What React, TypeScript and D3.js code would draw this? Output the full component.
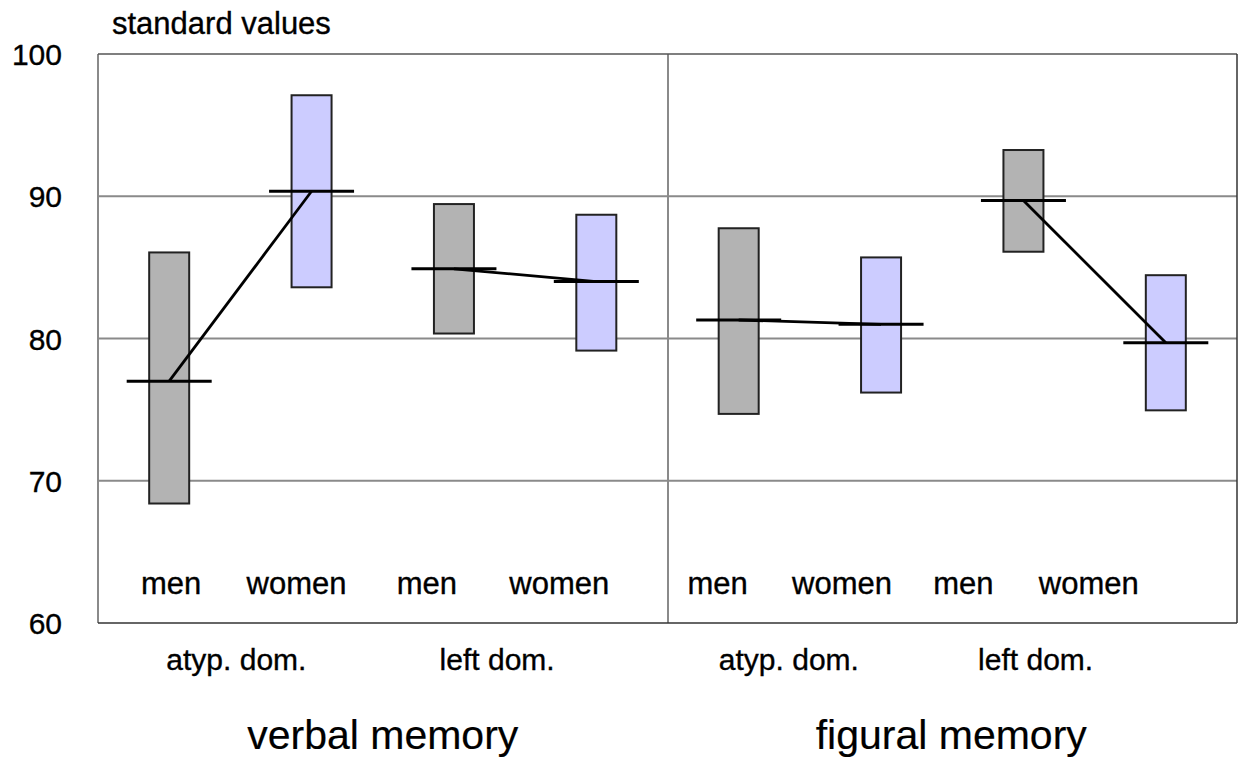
import React from "react";
import * as d3 from "d3";

// ---- data ----
const domains = ["verbal memory", "figural memory"];
const dominance = ["atyp. dom.", "left dom.", "atyp. dom.", "left dom."];
const sexes = ["men", "women", "men", "women", "men", "women", "men", "women"];
const lows = [68.4, 83.6, 80.35, 79.15, 74.7, 76.2, 86.1, 74.95];
const highs = [86.05, 97.1, 89.45, 88.7, 87.75, 85.7, 93.25, 84.45];
const means = [77.0, 90.35, 84.9, 84.0, 81.3, 81.0, 89.7, 79.7];
const yTicks = [60, 70, 80, 90, 100];

// ---- layout constants ----
const W = 1247, H = 764;
const L = 98, R = 1237, T = 54, B = 623;
const sexLabelOffsets = [2, -15, -27, -37, -21, -39, -60, -77];
const domLabelOffsets = [-4, -28, -21, -59];
const FONT = "'Liberation Sans', Arial, Helvetica, sans-serif";
const textStyle = { fontFamily: FONT, fill: "#000", stroke: "#000", strokeWidth: 0.35 };

export default function App() {
  const y = d3.scaleLinear().domain([60, 100]).range([B, T]);
  const x = d3.scaleBand<number>().domain(d3.range(8)).range([L, R]).padding(0);
  const cx = (i: number) => (x(i) as number) + x.bandwidth() / 2;
  const barW = 40;
  const meanW = 85;
  const fills = ["#b3b3b3", "#ccccff"];
  const line = d3.line<number>().x((i) => cx(i)).y((i) => y(means[i]));
  const mid = (L + R) / 2;

  return (
    <svg width={W} height={H} style={{ position: "absolute", left: 0, top: 0, background: "#fff" }}>
      {/* grid lines */}
      {yTicks.filter((t) => t > 60 && t < 100).map((t) => (
        <line key={t} x1={L} x2={R} y1={y(t)} y2={y(t)} stroke="#8a8a8a" strokeWidth={2} />
      ))}
      {/* frame */}
      <line x1={L} x2={L} y1={T} y2={B} stroke="#8a8a8a" strokeWidth={2} />
      <line x1={mid + 0.5} x2={mid + 0.5} y1={T} y2={B} stroke="#8a8a8a" strokeWidth={2} />
      <line x1={L} x2={R} y1={T} y2={T} stroke="#555" strokeWidth={1.5} />
      <line x1={L} x2={R} y1={B} y2={B} stroke="#333" strokeWidth={1.5} />
      <line x1={R} x2={R} y1={T} y2={B} stroke="#333" strokeWidth={1.5} />

      {/* bars */}
      {lows.map((lo, i) => (
        <rect key={i} x={cx(i) - barW / 2} y={y(highs[i])} width={barW} height={y(lo) - y(highs[i])}
          fill={fills[i % 2]} stroke="#222" strokeWidth={2} />
      ))}
      {/* mean markers */}
      {means.map((m, i) => (
        <line key={i} x1={cx(i) - meanW / 2} x2={cx(i) + meanW / 2} y1={y(m)} y2={y(m)} stroke="#000" strokeWidth={3} />
      ))}
      {/* connectors */}
      {[0, 2, 4, 6].map((i) => (
        <path key={i} d={line([i, i + 1]) as string} fill="none" stroke="#000" strokeWidth={2.8} />
      ))}

      {/* y tick labels */}
      {yTicks.map((t) => (
        <text key={t} x={62} y={y(t) + 11} textAnchor="end" fontSize={30} {...textStyle}>{t}</text>
      ))}
      <text x={112} y={34} fontSize={31} {...textStyle}>standard values</text>

      {/* sex labels */}
      {sexes.map((s, i) => (
        <text key={i} x={cx(i) + sexLabelOffsets[i]} y={594} textAnchor="middle" fontSize={31} {...textStyle}>{s}</text>
      ))}
      {/* dominance labels */}
      {dominance.map((d, k) => (
        <text key={k} x={(cx(2 * k) + cx(2 * k + 1)) / 2 + domLabelOffsets[k]} y={670} textAnchor="middle"
          fontSize={30} {...textStyle}>{d}</text>
      ))}
      {/* domain labels */}
      {domains.map((d, k) => (
        <text key={k} x={k === 0 ? (L + mid) / 2 : (mid + R) / 2 - 1} y={749} textAnchor="middle"
          fontSize={41} {...textStyle} strokeWidth={0.2}>{d}</text>
      ))}
    </svg>
  );
}
